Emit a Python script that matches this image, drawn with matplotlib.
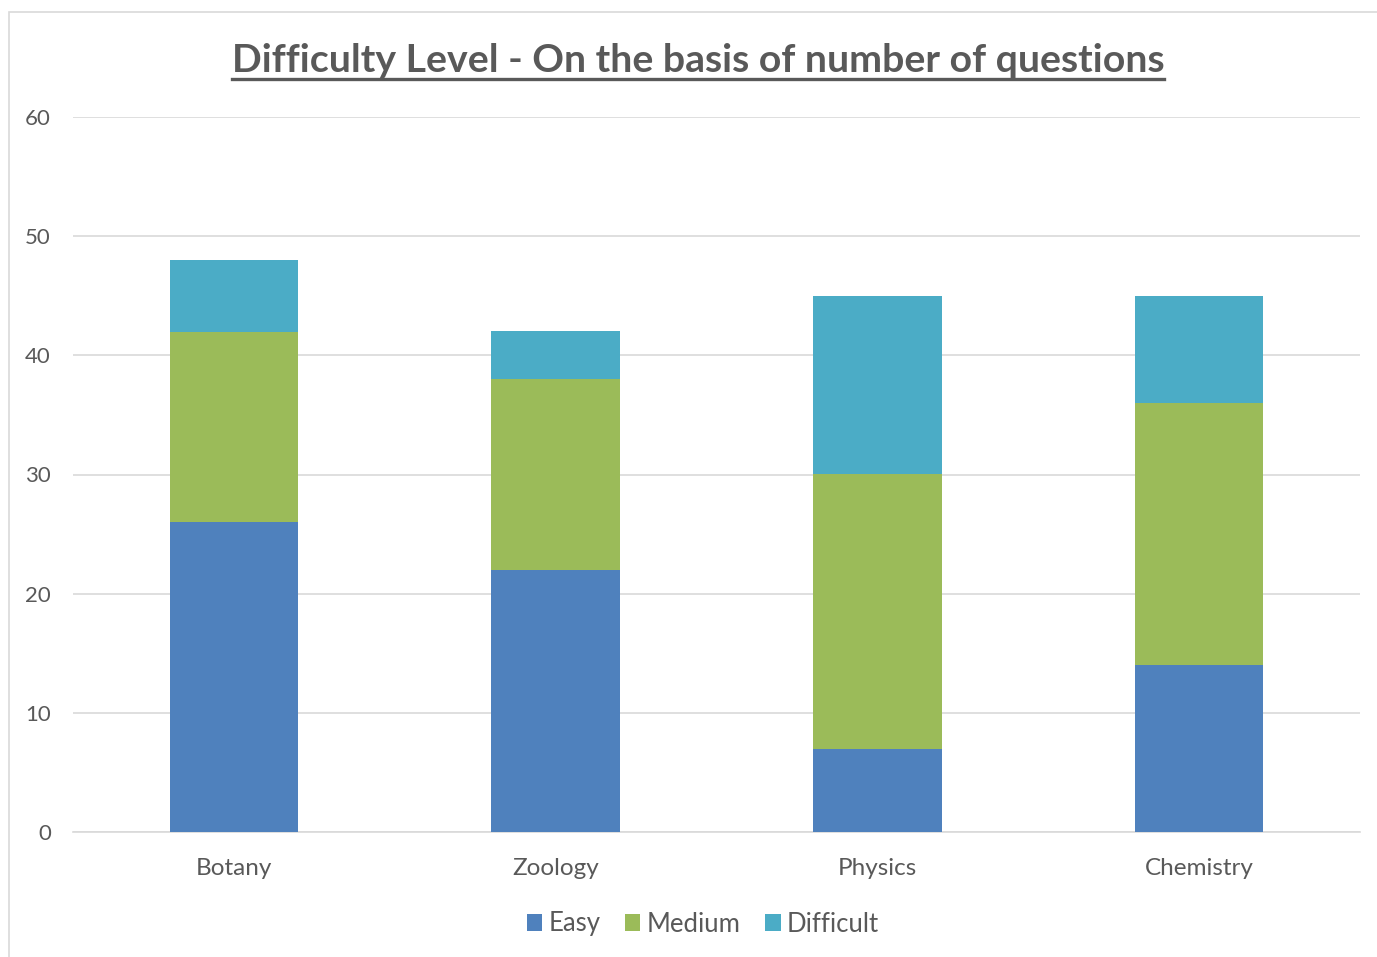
import matplotlib
matplotlib.use("Agg")
import matplotlib.pyplot as plt
from matplotlib.lines import Line2D
from matplotlib.patches import Rectangle
import numpy as np

categories = ["Botany", "Zoology", "Physics", "Chemistry"]
easy = [26, 22, 7, 14]
medium = [16, 16, 23, 22]
difficult = [6, 4, 15, 9]
series_names = ["Easy", "Medium", "Difficult"]
colors = ["#4F81BD", "#9BBB59", "#4BACC6"]
yticks = [0, 10, 20, 30, 40, 50, 60]

plt.rcParams['font.family'] = ['Lato', 'DejaVu Sans']
txt = "#595959"

W, H = 1377, 957
fig = plt.figure(figsize=(W/100, H/100), dpi=100)
fig.patch.set_facecolor("white")

# chart border
fig.add_artist(Rectangle((9/W, -0.01), 1.1, 1 - 12/H + 0.01, transform=fig.transFigure,
                         fill=False, edgecolor="#D9D9D9", linewidth=1.2))

ax = fig.add_axes([73/W, 1 - 832/H, (1360 - 73)/W, (832 - 117)/H])
x = np.arange(len(categories))
bw = 0.4
bottom = np.zeros(len(categories))
for vals, name, c in zip([easy, medium, difficult], series_names, colors):
    ax.bar(x, vals, bw, bottom=bottom, color=c, label=name, zorder=3)
    bottom += np.array(vals)

ax.set_xlim(-0.5, len(categories) - 0.5)
ax.set_ylim(0, 60)
ax.set_yticks(yticks)
ax.set_yticklabels([str(t) for t in yticks])
ax.set_xticks(x)
ax.set_xticklabels(categories)
ax.yaxis.grid(True, color="#D9D9D9", linewidth=1.2, zorder=0)
for s in ["top", "right", "left"]:
    ax.spines[s].set_visible(False)
ax.spines["bottom"].set_color("#D9D9D9")
ax.spines["bottom"].set_linewidth(1.2)
ax.tick_params(axis="both", length=0, colors=txt)
ax.tick_params(axis="y", labelsize=16, pad=16)
ax.tick_params(axis="x", labelsize=17.5, pad=19)

title = fig.text(698/W, 1 - 60/H, "Difficulty Level - On the basis of number of questions",
                 ha="center", va="center", fontsize=28.3, fontweight="bold", color=txt)

fig.legend(loc="center", bbox_to_anchor=(703/W, 1 - 924/H), ncol=3, frameon=False,
           fontsize=18.5, handlelength=0.6, handleheight=0.6, handletextpad=0.25,
           columnspacing=0.95, labelcolor=txt)

fig.canvas.draw()
bb = title.get_window_extent()
yline = (bb.y0 - 1) / H
fig.add_artist(Line2D([bb.x0 / W, bb.x1 / W], [yline, yline], transform=fig.transFigure,
                      color=txt, linewidth=2.4))

fig.savefig("out.png", dpi=100, facecolor="white")
